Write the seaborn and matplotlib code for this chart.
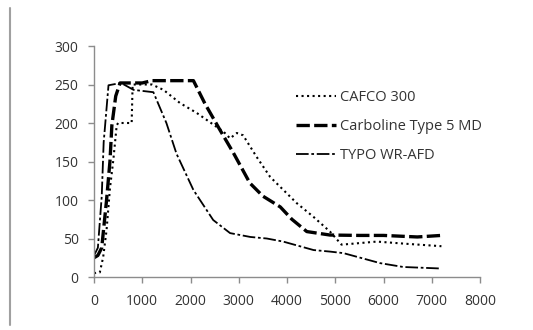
import pandas as pd
import seaborn as sns
import matplotlib.pyplot as plt
from matplotlib.lines import Line2D

# valores (tempo x temperatura)
cafco_t = [0, 120, 190, 260, 330, 400, 470, 500, 780, 800, 1200, 1440, 1780, 2130, 2540,
           2680, 2820, 2960, 3090, 3370, 3650, 4200, 4550, 4890, 5130, 5500, 5860, 6500, 7200]
cafco_y = [5, 6, 26, 61, 115, 152, 197, 200, 200, 250, 250, 243, 226, 213, 195,
           189, 180, 187, 184, 156, 130, 96, 78, 59, 42, 44, 46, 43, 40]

carbo_t = [0, 80, 160, 260, 330, 370, 450, 540, 1000, 1200, 2060, 2300, 2610, 2890, 3230,
           3500, 3860, 4100, 4410, 4890, 5500, 6000, 6700, 7200]
carbo_y = [25, 28, 38, 100, 150, 197, 235, 252, 252, 255, 255, 225, 191, 161, 122,
           105, 91, 75, 59, 54.5, 54, 54, 52, 54]

typo_t = [0, 80, 160, 200, 230, 300, 560, 820, 1230, 1500, 1710, 2060, 2470, 2820, 3240,
          3580, 3920, 4550, 4890, 5170, 5930, 6410, 7200]
typo_y = [28, 38, 105, 175, 197, 249, 252, 243, 240, 200, 160, 113, 74, 57, 52,
          50, 46, 35, 33, 31, 18, 13, 11]

series = ["CAFCO 300", "Carboline Type 5 MD", "TYPO WR-AFD"]

df = pd.concat([
    pd.DataFrame({"t": cafco_t, "temp": cafco_y, "serie": series[0]}),
    pd.DataFrame({"t": carbo_t, "temp": carbo_y, "serie": series[1]}),
    pd.DataFrame({"t": typo_t, "temp": typo_y, "serie": series[2]}),
])

sns.set_style("white")
plt.rcParams["font.family"] = ["Open Sans", "DejaVu Sans"]

fig = plt.figure(figsize=(5.33, 3.30), dpi=100)
ax = fig.add_axes([0.1764, 0.1606, 0.7242, 0.7])

estilos = {series[0]: dict(ls=":", lw=1.5),
           series[1]: dict(ls=(0, (4, 1.3)), lw=2.4),
           series[2]: dict(ls=(0, (7, 1.5, 1.5, 1.5)), lw=1.3)}

for s in series:
    sns.lineplot(data=df[df.serie == s], x="t", y="temp", ax=ax, sort=False,
                 estimator=None, color="black", label=s, **estilos[s])

ax.set_xlim(0, 8000)
ax.set_ylim(0, 300)
ax.set_xticks(range(0, 8001, 1000))
ax.set_yticks(range(0, 301, 50))
ax.set_xlabel("")
ax.set_ylabel("")

for side in ["top", "right"]:
    ax.spines[side].set_visible(False)
for side in ["left", "bottom"]:
    ax.spines[side].set_color("#8c8c8c")
    ax.spines[side].set_linewidth(1)
ax.tick_params(axis="both", colors="#8c8c8c", labelcolor="#333333", labelsize=10,
               length=4, width=1, direction="out", bottom=True, left=True)
ax.tick_params(axis="x", pad=8)
ax.tick_params(axis="y", pad=7)

ax.legend(loc="upper left", bbox_to_anchor=(0.545, 0.745), bbox_transform=fig.transFigure,
          frameon=False, fontsize=10.5, handlelength=2.7, handletextpad=0.3,
          labelspacing=0.95, borderaxespad=0, labelcolor="#333333")

# borda cinza a esquerda
fig.add_artist(Line2D([0.019, 0.019], [0.015, 0.975], color="#a0a0a0", lw=1.5))

plt.savefig("out.png", dpi=100)
